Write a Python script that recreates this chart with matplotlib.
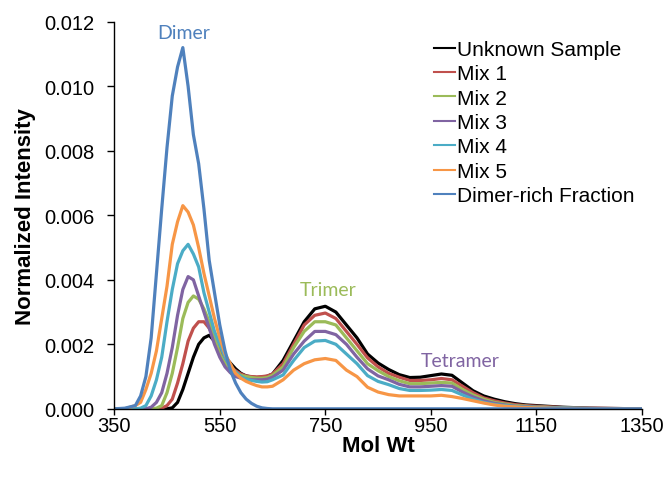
import matplotlib
matplotlib.use('Agg')
import matplotlib.pyplot as plt
from matplotlib.ticker import FormatStrFormatter
import numpy as np

# Mol Wt grid (x) and normalized intensity for each trace
mol_wt = [350, 370, 390, 400, 410, 420, 430, 440, 450, 460, 470, 480, 490, 500,
          510, 520, 530, 540, 550, 560, 570, 580, 590, 600, 610, 620, 630, 640,
          650, 670, 690, 710, 730, 750, 770, 790, 810, 830, 850, 870, 890, 910,
          930, 950, 970, 990, 1010, 1030, 1050, 1070, 1090, 1110, 1130, 1150,
          1200, 1250, 1300, 1350]

unknown = [0, 0, 0, 0, 0, 0, 0, 0, 0, 0.00003, 0.0002, 0.0006, 0.0011, 0.0016,
           0.0020, 0.0022, 0.00228, 0.0021, 0.0019, 0.0016, 0.00142, 0.00124, 0.0011, 0.00102,
           0.00099, 0.00097, 0.00098, 0.00101, 0.00108, 0.0015, 0.0021, 0.0027, 0.0031, 0.00318,
           0.0030, 0.0026, 0.0022, 0.0017, 0.00142, 0.00122, 0.00106, 0.00097, 0.00098, 0.00103,
           0.00108, 0.00104, 0.0008, 0.00056, 0.0004, 0.0003, 0.00022, 0.00016, 0.00012, 0.0001,
           0.00005, 0.00002, 0.00001, 0]

mix1 = [0, 0, 0, 0, 0, 0, 0, 0.00002, 0.0001, 0.0003, 0.0008, 0.0014, 0.0021, 0.0025,
        0.0027, 0.0027, 0.0025, 0.0022, 0.0018, 0.00155, 0.0013, 0.00118, 0.00108, 0.00102,
        0.001, 0.00099, 0.001, 0.00102, 0.00108, 0.0014, 0.0020, 0.0026, 0.0029, 0.00297,
        0.0028, 0.0024, 0.0020, 0.00158, 0.0013, 0.0011, 0.00098, 0.00088, 0.00088, 0.0009,
        0.00094, 0.0009, 0.0007, 0.0005, 0.00034, 0.00025, 0.00018, 0.00013, 0.0001, 0.00008,
        0.00004, 0.00002, 0.00001, 0]

mix2 = [0, 0, 0, 0, 0, 0, 0.00002, 0.0001, 0.0005, 0.0011, 0.0019, 0.0028, 0.0033, 0.0035,
        0.0034, 0.0031, 0.0027, 0.0022, 0.0017, 0.0014, 0.00122, 0.00112, 0.00104, 0.001,
        0.00097, 0.00095, 0.00095, 0.00097, 0.00104, 0.0013, 0.0019, 0.0024, 0.0027, 0.0027,
        0.0026, 0.0022, 0.0018, 0.0014, 0.00118, 0.001, 0.00087, 0.00078, 0.00078, 0.0008,
        0.00082, 0.0008, 0.0006, 0.00043, 0.0003, 0.0002, 0.00015, 0.0001, 0.00008, 0.00006,
        0.00003, 0.00001, 0, 0]

mix3 = [0, 0, 0, 0, 0, 0.00005, 0.0002, 0.0005, 0.0011, 0.0019, 0.0029, 0.0037, 0.0041, 0.0040,
        0.0035, 0.0030, 0.0025, 0.0020, 0.0016, 0.0013, 0.00112, 0.001, 0.00095, 0.00092,
        0.0009, 0.0009, 0.0009, 0.00092, 0.00098, 0.0012, 0.0017, 0.0021, 0.0024, 0.0024,
        0.0023, 0.0020, 0.0016, 0.00124, 0.00102, 0.0009, 0.00076, 0.00068, 0.00068, 0.0007,
        0.00072, 0.0007, 0.00052, 0.00037, 0.00025, 0.00017, 0.00012, 0.00008, 0.00006, 0.00005,
        0.00002, 0.00001, 0, 0]

mix4 = [0, 0, 0, 0.00002, 0.0001, 0.0004, 0.0009, 0.0016, 0.0027, 0.0037, 0.0045, 0.0049, 0.0051, 0.0048,
        0.0044, 0.0036, 0.0030, 0.0024, 0.0020, 0.0016, 0.0013, 0.00115, 0.001, 0.00092,
        0.00088, 0.00085, 0.00083, 0.00084, 0.0009, 0.00105, 0.0015, 0.0019, 0.0021, 0.00212,
        0.0020, 0.0017, 0.0014, 0.00103, 0.00085, 0.00075, 0.00063, 0.00057, 0.00057, 0.00058,
        0.0006, 0.00057, 0.00043, 0.0003, 0.0002, 0.00014, 0.0001, 0.00007, 0.00005, 0.00004,
        0.00002, 0.00001, 0, 0]

mix5 = [0, 0, 0.0001, 0.0002, 0.0006, 0.0011, 0.0018, 0.0028, 0.0038, 0.0051, 0.0058, 0.0063, 0.0061, 0.0057,
        0.0050, 0.0042, 0.0035, 0.0028, 0.0022, 0.0017, 0.0014, 0.0011, 0.00095, 0.00085,
        0.00078, 0.00072, 0.00068, 0.00068, 0.0007, 0.0009, 0.0012, 0.0014, 0.00152, 0.00156,
        0.0015, 0.0012, 0.001, 0.00067, 0.00052, 0.00044, 0.0004, 0.0004, 0.0004, 0.0004,
        0.00042, 0.00038, 0.00032, 0.00025, 0.00018, 0.00012, 0.00008, 0.00006, 0.00004, 0.00003,
        0.00001, 0, 0, 0]

dimer_rich = [0, 0.00002, 0.0001, 0.0004, 0.001, 0.0022, 0.0042, 0.0062, 0.0081, 0.0097, 0.0106, 0.0112, 0.0100, 0.0085,
              0.0076, 0.0062, 0.0046, 0.0036, 0.0026, 0.0018, 0.0012, 0.0008, 0.0005, 0.0003,
              0.00017, 0.00008, 0.00003, 0.00001, 0, 0, 0, 0, 0, 0,
              0, 0, 0, 0, 0, 0, 0, 0, 0, 0,
              0, 0, 0, 0, 0, 0, 0, 0, 0, 0,
              0, 0, 0, 0]

series_names = ['Unknown Sample', 'Mix 1', 'Mix 2', 'Mix 3', 'Mix 4', 'Mix 5',
                'Dimer-rich Fraction']
series_colors = ['#000000', '#C0504D', '#9BBB59', '#8064A2', '#4BACC6', '#F79646',
                 '#4F81BD']
x_ticks = [350, 550, 750, 950, 1150, 1350]
y_ticks = [0.000, 0.002, 0.004, 0.006, 0.008, 0.010, 0.012]

plt.rcParams['font.family'] = ['Liberation Sans', 'DejaVu Sans']

fig = plt.figure(figsize=(6.68, 4.85), dpi=100)
ax = fig.add_axes([0.171, 0.155, 0.79, 0.798])

all_series = [unknown, mix1, mix2, mix3, mix4, mix5, dimer_rich]
for vals, name, col in zip(all_series, series_names, series_colors):
    ax.plot(mol_wt, vals, color=col, lw=2.3, label=name, solid_joinstyle='round')

ax.set_xlim(350, 1350)
ax.set_ylim(0, 0.012)
ax.set_xticks(x_ticks)
ax.set_yticks(y_ticks)
ax.yaxis.set_major_formatter(FormatStrFormatter('%.3f'))
ax.tick_params(direction='out', length=5, width=1, labelsize=14.5, colors='black')
ax.tick_params(axis='y', pad=9)
ax.tick_params(axis='x', length=4, pad=1)
for side in ['top', 'right']:
    ax.spines[side].set_visible(False)
for side in ['left', 'bottom']:
    ax.spines[side].set_linewidth(1)

ax.set_xlabel('Mol Wt', fontsize=16, fontweight='bold', labelpad=0)
ax.set_ylabel('Normalized Intensity', fontsize=16, fontweight='bold', labelpad=6)

# peak annotations
ax.text(482, 0.0114, 'Dimer', color='#4F81BD', fontsize=14, family=['Lato', 'DejaVu Sans'],
        ha='center', va='bottom')
ax.text(756, 0.00344, 'Trimer', color='#9BBB59', fontsize=14, family=['Lato', 'DejaVu Sans'],
        ha='center', va='bottom')
ax.text(1005, 0.00122, 'Tetramer', color='#8064A2', fontsize=14, family=['Lato', 'DejaVu Sans'],
        ha='center', va='bottom')

leg = ax.legend(loc='upper left', bbox_to_anchor=(0.59, 0.975), frameon=False,
                fontsize=15, handlelength=1.0, handletextpad=0.1, labelspacing=0.26,
                borderaxespad=0)
for h in leg.get_lines():
    h.set_linewidth(1.5)

fig.savefig('out.png', dpi=100)
